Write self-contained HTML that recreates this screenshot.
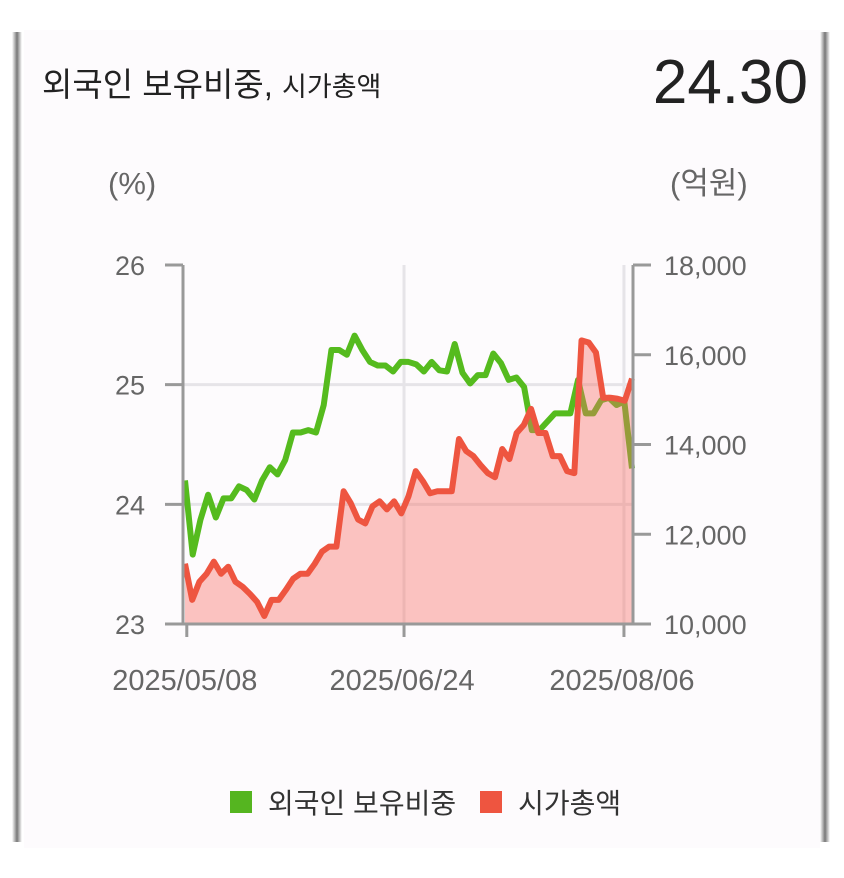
<!DOCTYPE html>
<html><head><meta charset="utf-8"><style>
html,body{margin:0;padding:0;background:#fff;width:844px;height:878px;overflow:hidden;font-family:"Liberation Sans","Noto Sans CJK KR",sans-serif}
#card{position:absolute;left:24px;top:30px;width:796px;height:818px;background:#fdfbfd}
.edge{position:absolute;top:32px;width:10px;height:810px;background:linear-gradient(90deg,#fff,#777,#fff)}
</style></head><body>
<div class="edge" style="left:12px"></div>
<div class="edge" style="left:820px"></div>
<div id="card"></div>
<div style="position:absolute;left:42px;top:58px;font-size:33px;color:#222">외국인 보유비중, <span style="font-size:27px">시가총액</span></div>
<div style="position:absolute;right:36px;top:47px;font-size:62px;color:#222">24.30</div>
<svg id="chart" width="844" height="878" style="position:absolute;left:0;top:0"></svg>
<div style="position:absolute;left:230px;top:782px;font-size:28px;color:#333;display:flex;align-items:center">
<span style="width:22px;height:22px;background:#55b520;display:inline-block;margin-right:16px"></span><span>외국인 보유비중</span>
<span style="width:22px;height:22px;background:#ee5540;display:inline-block;margin:0 16px 0 24px"></span><span>시가총액</span>
</div>
<script>
const leftTicks=[23,24,25,26];
const rightTicks=[10000,12000,14000,16000,18000];
const xLabels=["2025/05/08","2025/06/24","2025/08/06"];
const xLabelFrac=[0.004,0.49,0.982];
const foreignRatio=[24.20,23.58,23.87,24.08,23.89,24.05,24.05,24.15,24.12,24.04,24.20,24.31,24.25,24.37,24.60,24.60,24.62,24.60,24.83,25.29,25.29,25.25,25.41,25.29,25.19,25.16,25.16,25.11,25.19,25.19,25.17,25.11,25.19,25.12,25.11,25.34,25.10,25.01,25.08,25.08,25.26,25.18,25.04,25.06,24.98,24.62,24.62,24.69,24.76,24.76,24.76,25.04,24.76,24.76,24.87,24.89,24.83,24.86,24.30];
const marketCap=[11344,10538,10941,11120,11389,11120,11277,10941,10829,10672,10493,10179,10538,10538,10762,11008,11120,11120,11344,11613,11725,11725,12958,12689,12330,12241,12622,12734,12554,12734,12465,12846,13406,13182,12913,12958,12958,12958,14123,13854,13742,13540,13361,13271,13899,13675,14257,14437,14795,14257,14257,13742,13742,13406,13361,16319,16274,16050,15042,15042,15019,14975,15468];
const X0=185,X1=632,YT=265,YB=624;
const yL=v=>YB-(v-23)/3*(YB-YT);
const yR=v=>YB-(v-10000)/8000*(YB-YT);
const xS=(i,n)=>X0+i/(n-1)*(X1-X0);
const svg=document.getElementById('chart');
const NS='http://www.w3.org/2000/svg';
function mk(t,a){const e=document.createElementNS(NS,t);for(const k in a)e.setAttribute(k,a[k]);svg.appendChild(e);return e;}
[24,25].forEach(v=>{const e=mk('line',{x1:183,x2:633,y1:yL(v),y2:yL(v),stroke:'#e6e4e8','stroke-width':3});

});
[0.49,0.982].forEach(f=>{const x=X0+f*(X1-X0);const e=mk('line',{x1:x,x2:x,y1:YT,y2:YB,stroke:'#e6e4e8','stroke-width':3});

});
let gp=foreignRatio.map((v,i)=>(i?'L':'M')+xS(i,foreignRatio.length)+','+yL(v)).join('');
const gl=mk('path',{d:gp,fill:'none',stroke:'#55bb1e','stroke-width':6,'stroke-linejoin':'round'});


let rp=marketCap.map((v,i)=>(i?'L':'M')+xS(i,marketCap.length)+','+yR(v)).join('');
const ra=mk('path',{d:rp+'L'+X1+','+YB+'L'+X0+','+YB+'Z',fill:'rgba(248,110,100,0.4)'});


const rl=mk('path',{d:rp,fill:'none',stroke:'#ee5540','stroke-width':6,'stroke-linejoin':'round'});


[[183,YT,183,YB],[633,YT,633,YB],[183,YB,633,YB]].forEach(a=>{const e=mk('line',{x1:a[0],y1:a[1],x2:a[2],y2:a[3],stroke:'#999','stroke-width':3});

});
leftTicks.forEach(v=>{const y=yL(v);
const t=mk('line',{x1:165,x2:183,y1:y,y2:y,stroke:'#999','stroke-width':3});


const l=mk('text',{x:145,y:y+10,'text-anchor':'end','font-size':27,fill:'#666'});l.textContent=v;

});
rightTicks.forEach(v=>{const y=yR(v);
const t=mk('line',{x1:633,x2:651,y1:y,y2:y,stroke:'#999','stroke-width':3});


const l=mk('text',{x:664,y:y+10,'font-size':27,fill:'#666'});l.textContent=v.toLocaleString('en-US');

});
xLabels.forEach((s,i)=>{const x=X0+xLabelFrac[i]*(X1-X0);
const t=mk('line',{x1:x,x2:x,y1:YB,y2:637,stroke:'#999','stroke-width':3});


const l=mk('text',{x:x-2,y:690,'text-anchor':'middle','font-size':29,fill:'#666'});l.textContent=s;

});
const u1=mk('text',{x:108,y:194,'font-size':31,fill:'#666'});u1.textContent='(%)';


const u2=mk('text',{x:670,y:194,'font-size':31,fill:'#666'});u2.textContent='(억원)';


</script>
</body></html>
